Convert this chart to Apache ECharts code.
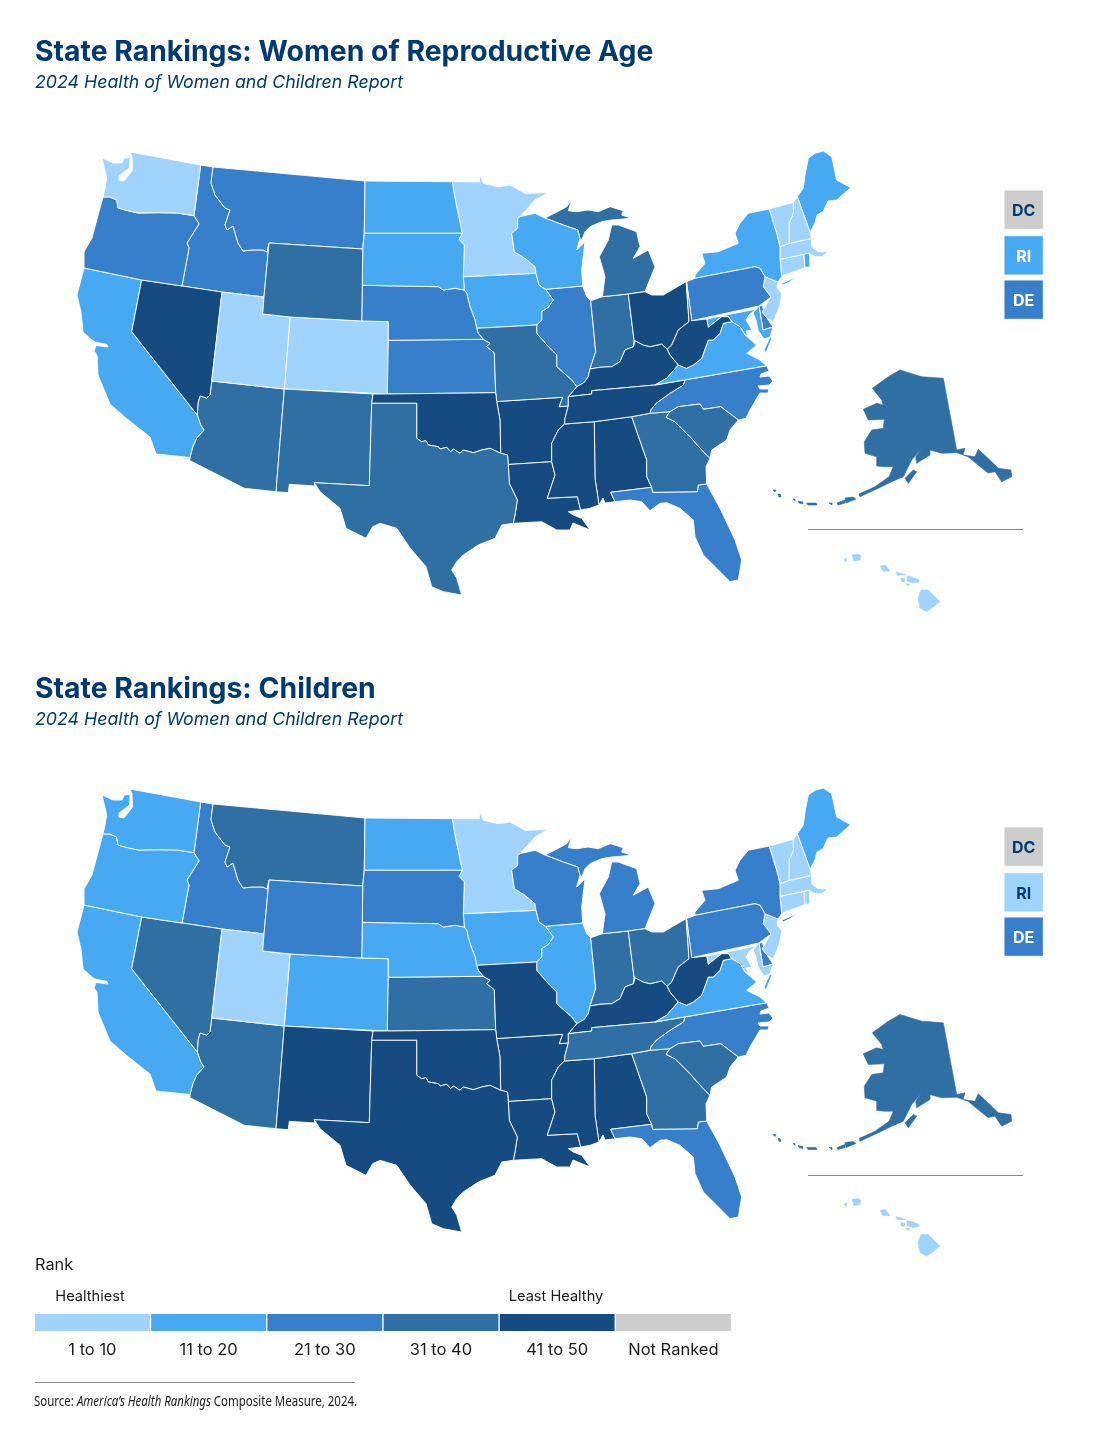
<!DOCTYPE html>
<html>
<head>
<meta charset="utf-8">
<title>State Rankings</title>
<script src="https://cdn.jsdelivr.net/npm/echarts@6/dist/echarts.min.js"></script>
<style>
    html, body { margin: 0; padding: 0; background: #fff; }
    #container { width: 1118px; height: 1445px; }
</style>
</head>
<body>
<div id="container"></div>
<script>
// rank group of each state: 1 = ranks 1-10 ... 5 = ranks 41-50, 0 = not ranked
var stateCodes    = ['AL','AK','AZ','AR','CA','CO','CT','DE','DC','FL','GA','HI','ID','IL','IN','IA','KS','KY','LA','ME','MD','MA','MI','MN','MS','MO','MT','NE','NV','NH','NJ','NM','NY','NC','ND','OH','OK','OR','PA','RI','SC','SD','TN','TX','UT','VT','VA','WA','WV','WI','WY'];
var womenGroups   = [5,4,4,5,2,1,1,3,0,3,4,1,3,3,4,2,3,5,5,2,2,1,4,1,5,4,3,3,5,1,1,4,2,3,2,5,5,3,3,2,4,2,5,4,1,1,2,1,5,2,4];
var childrenGroups= [5,4,4,5,2,2,1,3,0,3,4,1,3,2,4,2,4,5,5,2,1,1,3,1,5,5,4,2,4,1,1,5,3,3,2,4,5,2,3,1,4,3,4,5,1,1,2,2,5,3,3];
var legendGroups  = [1,2,3,4,5,0];
var legendLabels  = ['1 to 10','11 to 20','21 to 30','31 to 40','41 to 50','Not Ranked'];
var groupColors   = {0:'#cccccc',1:'#a0d4ff',2:'#47a9f1',3:'#387fcb',4:'#2f6fa3',5:'#154b80'};
var boxedStates   = ['DC','RI','DE'];
var insetStates   = ['AK','HI'];

var titleColor = '#003a70';
var titleFont = 'Inter, "Noto Sans", sans-serif';

// base map outlines, "x,y x,y ..." in map units
var redRiver = '416.7,438.3 421.7,441.7 426,440.7 428.3,445 438.3,446.7 440,449 446.7,447.3 450.7,451.7 453.3,449 460,453.3 463.3,450 473.3,452.7 481.7,450 490,448.3 500.7,453.3';
var redRiverBack = redRiver.split(' ').reverse().join(' ');
var outlines = {
    WA:['130,152 200.7,165 194,215.7 176.7,213 158,212.7 138,213 125,210 118,208 116.7,200 110,197 103,197 105,188 106.7,178 102,158 113,163 122,163 124,158 130,157.5 129.5,168 119,176 119,180 124,181 132.5,170 132,157'],
    OR:['194,215.7 199,224 187,243 189,248 182,286 141.7,280 84,268 84,252 92,238 100,208 103,197 110,197 116.7,200 118,208 125,210 138,213 158,212.7 176.7,213'],
    ID:['200.7,165 213,167 211,183 215,195 225,208 230,210 225,225 227,230 233,226 238,243 243,251 252,250 263,250 267,252 269,243 264,297 222,292 182,286 189,248 187,243 199,224 194,215.7'],
    MT:['213,167 365,181 364.3,233.3 362.7,249 269,243 267,252 263,250 252,250 243,251 238,243 233,226 227,230 225,225 230,210 225,208 215,195 211,183'],
    WY:['269,243 362.7,249 362.3,285.3 361.7,321 290,317 262.7,314 264,297'],
    UT:['222,292 264,297 262.7,314 290,317 284.3,389 211.7,381'],
    CO:['290,317 361.7,321 388.3,321.7 388.3,340.3 387.3,394 284.3,389'],
    NV:['141.7,280 182,286 222,292 211.7,381 210,395 206.7,398 200,396 198,403 197.3,415 131.7,331.7'],
    CA:['84,268 141.7,280 131.7,331.7 197.3,415 200.7,425 204,430 196.7,438 192.7,447 190,457.5 156,454 150,437 126,418 110,404 98,375 97,355 94,351 96,345.5 108,347 107,344.5 95,342 92,340 83,332 81,312 77,295'],
    AZ:['211.7,381 284.3,389 276,491.7 244.3,488.3 190,460.7 190,457.5 192.7,447 196.7,438 204,430 200.7,425 197.3,415 198,403 200,396 206.7,398 210,395'],
    NM:['284.3,389 373,394 371.7,403.3 369.3,485.7 314.3,482.7 315,486 289.3,484.3 288.3,492.7 276,491.7'],
    OK:['373,394 387.3,394 495.7,392.7 496.7,401.5 500,420 ' + redRiverBack + ' 416.7,403.3 371.7,403.3'],
    TX:['371.7,403.3 416.7,403.3 ' + redRiver + ' 507.5,455 508.3,464.5 509.3,483.3 517.3,500 515,515 513.3,523.3 501.7,525 495,538.3 478.3,545 463.3,555 456.7,561.7 451.7,570 456.7,578 461.7,595 443.3,591.7 431.7,586.7 426,566.7 410,548 396.7,528.3 380,523.3 372.7,526.7 366,538.3 346,528.3 340,508.3 320,491.7 314.3,482.7 369.3,485.7'],
    ND:['365,181 452.3,181.7 455,198.3 462.3,233.3 364.3,233.3'],
    SD:['364.3,233.3 462.3,233.3 459,239.3 464.3,245 463.3,276.7 464.3,290 455,288.3 443.3,290 438.3,286.7 362.3,285.3 362.7,249'],
    NE:['362.3,285.3 438.3,286.7 443.3,290 455,288.3 464.3,290 466.7,293.3 470,306.7 475,320 476.7,328.3 478.3,333.3 483.3,339.3 388.3,340.3 388.3,321.7 361.7,321'],
    KS:['388.3,340.3 483.3,339.3 490,343.3 486.7,346.7 494.3,352.7 495.7,392.7 387.3,394'],
    MN:['452.3,181.7 479.3,181.7 480,175 483.3,183.3 498.3,186.7 510,185 525,193.3 547.7,192.7 535,200 520,216.7 517.7,218.3 517.7,228.3 511.7,233.3 514.3,251.7 525,258.3 535,266.7 536,273.3 463.3,276.7 464.3,245 459,239.3 462.3,233.3 455,198.3'],
    IA:['463.3,276.7 536,273.3 539,285 545.5,289.3 553.3,300 548.3,307.3 541.7,311.7 541.7,320 536.7,325 476.7,328.3 475,320 470,306.7 466.7,293.3 464.3,290'],
    MO:['476.7,328.3 536.7,325 536.7,333.3 548.3,346.7 556.7,355 556.7,366.7 571.7,380 576.7,386.7 568.3,396.7 568.3,406 559.3,406.7 562.7,397.3 496.7,401.5 495.7,392.7 494.3,352.7 486.7,346.7 490,343.3 483.3,339.3 478.3,333.3'],
    AR:['496.7,401.5 562.7,397.3 559.3,406.7 568.3,406 565,418.3 564.5,424 558.3,430 551.7,443.3 551.7,461.7 508.3,464.5 507.5,455 500.7,453.3 500,420'],
    LA:['508.3,464.5 551.7,461.7 555,475 547.3,498.3 577.3,496.7 580.7,510 568.3,511.7 573.3,515 581.7,518.3 590,530 573,523 570,530 556.7,530 541.7,521.7 523.3,522.7 513.3,523.3 515,515 517.3,500 509.3,483.3'],
    MS:['564.5,424 594.3,421.7 595,478.3 599,505 590,508.3 580.7,510 577.3,496.7 547.3,498.3 555,475 551.7,461.7 551.7,443.3 558.3,430'],
    AL:['594.3,421.7 631.7,416.7 646.7,460 646.7,476.7 651.7,487.3 610.7,492.3 615,501.7 605,503 603,498 599,505 595,478.3'],
    GA:['631.7,416.7 650,413.3 670,411.7 666,417.3 675,421.7 690,436.7 703.3,451.7 710,458.3 706,466.7 706.7,484 698.3,485 697.3,491.7 652.7,492.3 651.7,487.3 646.7,476.7 646.7,460'],
    FL:['610.7,492.3 651.7,487.3 652.7,492.3 697.3,491.7 698.3,485 706.7,484 720,508.3 735,540 741.7,560 738.3,580 730,581.7 716.7,568.3 703.3,555 695,536.7 693.3,520 680,508.3 666.7,502.7 660,503.3 650,510.7 641.7,501.7 630,500 615,501.7'],
    SC:['666,417.3 670,411.7 678.3,406.7 700,404 703.3,409.3 720.7,406.7 738.3,420 730,430 726.7,440 711.7,450 710,458.3 703.3,451.7 690,436.7 675,421.7'],
    NC:['650,413.3 650.7,410 656,403.3 670,393.3 683.3,385 685,380 766.7,365.7 769,371 761,374 760,377 769,376 773,381 769,385 758,386 760,389 769,389 768,393 760,393 750,410 746,418.3 738.3,420 720.7,406.7 703.3,409.3 700,404 678.3,406.7 670,411.7'],
    TN:['564.5,424 565,418.3 568.3,406 568.3,396.7 591.7,394 591.7,390.7 655,385 685,380 683.3,385 670,393.3 656,403.3 650.7,410 650,413.3 631.7,416.7 594.3,421.7'],
    KY:['591.7,390.7 655,385 666.7,378.3 678.3,365 670,355 667.3,349.3 661.7,344 650,346.7 643.3,345 635,340.7 633.5,346.7 625,350 620,361.7 611.7,366.7 600,367.3 590,369 588.3,376.7 584,382.7 576.7,386.7 568.3,396.7 591.7,394'],
    IL:['545.5,289.3 582.7,286 586.7,296.7 590.7,300.7 594.3,336.7 595.7,351.7 590,369 588.3,376.7 584,382.7 576.7,386.7 571.7,380 556.7,366.7 556.7,355 548.3,346.7 536.7,333.3 536.7,325 541.7,320 541.7,311.7 548.3,307.3 553.3,300'],
    IN:['590.7,300.7 602.3,296.7 628.3,294 634,340 633.5,346.7 625,350 620,361.7 611.7,366.7 600,367.3 590,369 595.7,351.7 594.3,336.7'],
    OH:['628.3,294 645,291.7 651.7,295 663.3,295 686,281.7 689,321.7 678.3,330 671.7,345 667.3,349.3 661.7,344 650,346.7 643.3,345 635,340.7 634,340'],
    PA:['686.5,281.7 695,278.3 755,266.7 760,268.3 765,276.8 763.3,286.8 771,297 759,306 691.7,320.7'],
    WV:['689,321.7 686.5,281.7 691.7,320.7 706.7,319 708.3,327.3 721.7,316.7 728.3,316.7 731.7,321.7 723.3,323.3 720,333.3 713.3,340 708.3,340 701.7,358.3 693.3,365 686.7,368.3 678.3,365 670,355 667.3,349.3 671.7,345 678.3,330'],
    VA:['655,385 666.7,378.3 678.3,365 686.7,368.3 693.3,365 701.7,358.3 708.3,340 713.3,340 720,333.3 723.3,323.3 731.7,321.7 740,326.7 745,335 756.7,345 746.7,353.3 760,360 766.7,365.7','770,337 772,338 766,353 764,350'],
    MD:['706.7,319 756,309 749,315 746,320 752,330 746,331 748,336 745,335 740,326.7 731.7,321.7 728.3,316.7 721.7,316.7 708.3,327.3','759,306 763,330 773,327 770,337 764,339 758,330 756,320 753,313'],
    DC:['1004,190 1043.3,190 1043.3,229.3 1004,229.3','745,328 748,326 750,329 747,331'],
    DE:['1004,280 1023.6,280 1043.3,280 1043.3,299.6 1043.3,319.3 1023.6,319.3 1004,319.3 1004,299.6','759,306 762.5,305.5 765,315 773,327 763,330'],
    NJ:['765,276.8 771,279 778,282 777,288 781.7,293.5 780,305 776.7,313.5 773.3,321.8 767,318 762,312 771,297 763.3,286.8'],
    NY:['695,278.3 755,266.7 760,268.3 765,276.8 778,282 781.7,276.7 780,259.3 780,246.7 777.3,235 769.3,209 748.3,213.3 740,223.3 735,233.3 738.3,243.3 718.3,251.7 701.7,253.3 705,263.3 695,275','781.7,283.3 796.7,276.7 790,281.7 783,285'],
    VT:['769.3,209 793.3,202.3 793.3,213.3 789,223.3 789,243.5 780,246.7 777.3,235'],
    NH:['793.3,202.3 797.3,196.7 810,232.3 811.7,238.3 789,243.5 789,223.3 793.3,213.3'],
    ME:['797.3,196.7 803.3,188 805,175 808.3,158 815,153.3 823.3,151 831.7,156.7 836.7,180 850.7,187.7 836.7,200 828,201 823,211.7 817,215 815,223 810,232.3'],
    MA:['780,246.7 789,243.5 811.7,238.3 811.7,246.7 818.3,251.7 828.3,251.7 821.7,256.7 815,256.7 809.3,253.3 804,254.3 780,259.3'],
    CT:['780,259.3 804,254.3 805,267.7 782.7,275.7 781.7,276.7'],
    RI:['1004,235.7 1043.3,235.7 1043.3,275 1004,275','804,254.3 809.3,253.3 810,266.7 805,267.7'],
    WI:['517.7,218.3 520,216.7 535,213.3 545,218 563.3,225 577.7,230 580,238.3 576.7,250 585,241.7 581.7,270 582.7,286 545.5,289.3 539,285 536,273.3 535,266.7 525,258.3 514.3,251.7 511.7,233.3 517.7,228.3'],
    MI:['545,218 555,213 566.7,206.7 571.7,200 568.3,210.7 576.7,211.7 588,210 598.3,211.7 610,206.7 623.3,210.7 621.7,215 631.7,218.3 611.7,220 601.7,221.7 590,226.7 585,231.7 581.7,240 580,238.3 577.7,230 563.3,225','611.7,225 618.3,225 636.7,231.7 640,246.7 633.3,258.3 648.3,250 655,266.7 645,291.7 628.3,294 602.3,296.7 605,276.7 599.3,256.7 608.3,240'],
    AK:['900,370 921.7,376.7 943.3,378.3 956.7,450 965,448.3 963,455 975,456.7 978.3,449.3 991.7,461.7 998.3,468.3 1011,470 1011.7,476.7 1001.7,481.7 995,471.7 988,473 978,465 968,456.7 956.7,452.7 941.7,453.3 930,450 930,455 916.7,463.3 915.7,456.7 921.7,448.3 911.7,460 903.3,476.7 891.7,481.7 878.3,488.3 860,496.7 859,494 875,486.7 889,476.7 893.3,466.7 885,466.7 876.7,466 876.7,456.7 865,453.3 864.3,441.7 871.7,430 883.3,428.3 884.3,419.3 868.3,420 863.3,409.3 876.7,403.3 883.3,405 881.7,400 872.3,388.3 888.3,376.7','905,478.3 913.3,470 916.7,471.7 908.3,483.3','845,498 853,497 856,499 846,503','837,503 845,500 845,503 838,505','806.7,503 816,503 817,505 808,505','798,501 803,502 803,504 799,503','793,499 795,499 795,501','778,494 780,494 781,497 779,497','773,490 776,490 775,492','829,503 832,503 832,505'],
    HI:['852,555 858,554 861,556 860,560 854,561','844,560 847,558 846,562','880,566 885,565 890,571 890,572 883,571','896,572 906,575 906,576 897,575','901,578 905,579 904,582 901,581','907,576 912,577 919,580 919,582 912,583 907,581','906,584 910,584 908,586','921,590 928.3,590 940,601.7 926.7,611.7 920,608 918,598']
};

// Alaska and Hawaii sit a little lower in the second map
function buildGeo(insetShift) {
    var features = stateCodes.map(function (code) {
        var shift = insetStates.indexOf(code) >= 0 ? insetShift : 0;
        return {
            type: 'Feature',
            properties: {name: code},
            geometry: {
                type: 'MultiPolygon',
                coordinates: outlines[code].map(function (ring) {
                    return [ring.split(' ').map(function (p) {
                        var xy = p.split(',');
                        return [+xy[0], +xy[1] + shift];
                    })];
                })
            }
        };
    });
    return {type: 'FeatureCollection', features: features};
}
echarts.registerMap('usWomen', buildGeo(0));
echarts.registerMap('usChildren', buildGeo(7.5));

function mapData(groups) {
    return stateCodes.map(function (code, i) {
        var item = {name: code, value: groups[i]};
        if (boxedStates.indexOf(code) >= 0) {
            item.label = {
                show: true,
                color: groups[i] < 2 ? titleColor : '#fff',
                fontFamily: titleFont,
                fontWeight: 700,
                fontSize: 16,
                offset: [0, 1.5]
            };
        }
        if (insetStates.indexOf(code) >= 0) {
            item.itemStyle = {borderColor: groupColors[groups[i]], borderWidth: 0.6};
        }
        return item;
    });
}

function mapSeries(mapName, groups, top) {
    return {
        type: 'map',
        map: mapName,
        projection: {project: function (p) { return p; }, unproject: function (p) { return p; }},
        boundingCoords: [[0, 0], [1118, 722]],
        left: 0,
        top: top,
        width: 1118,
        height: 722,
        roam: false,
        silent: true,
        selectedMode: false,
        label: {show: false},
        itemStyle: {borderColor: '#fff', borderWidth: 0.9, areaColor: '#ccc'},
        data: mapData(groups)
    };
}

function headerText(text, y, size, weight, style) {
    return {
        type: 'text', x: 35, y: y,
        style: {text: text, fill: titleColor, font: style + ' ' + weight + ' ' + size + 'px ' + titleFont, textVerticalAlign: 'middle'}
    };
}

function plainText(text, x, y, align, size) {
    return {
        type: 'text', x: x, y: y,
        style: {text: text, fill: '#1a1a1a', font: size + 'px ' + titleFont, textAlign: align, textVerticalAlign: 'middle'}
    };
}

function rule(x1, x2, y, color) {
    return {type: 'line', shape: {x1: x1, y1: y, x2: x2, y2: y}, style: {stroke: color, lineWidth: 1}};
}

var graphics = [
    headerText('State Rankings: Women of Reproductive Age', 52, 28.35, 700, 'normal'),
    headerText('2024 Health of Women and Children Report', 82.5, 17.75, 400, 'italic'),
    headerText('State Rankings: Children', 689, 28.35, 700, 'normal'),
    headerText('2024 Health of Women and Children Report', 719.5, 17.75, 400, 'italic'),
    rule(808, 1023, 529.5, '#7f8a99'),
    rule(808, 1023, 1175.5, '#7f8a99'),
    plainText('Rank', 35, 1265, 'left', 16.3),
    plainText('Healthiest', 90, 1297, 'center', 14.6),
    plainText('Least Healthy', 556, 1297, 'center', 14.6),
    rule(35, 355, 1382.5, '#888'),
    {
        type: 'text', x: 34, y: 1402, scaleX: 0.85,
        style: {
            text: 'Source: {i|America\u2019s Health Rankings} Composite Measure, 2024.',
            fill: '#1a1a1a',
            font: '13.5px "Noto Sans", sans-serif',
            textVerticalAlign: 'middle',
            rich: {i: {font: 'italic 13.5px "Noto Sans", sans-serif', fill: '#1a1a1a'}}
        }
    }
];
legendGroups.forEach(function (group, i) {
    var x = 35 + i * 116.2;
    graphics.push({
        type: 'rect',
        shape: {x: x, y: 1314, width: 114.8, height: 17},
        style: {fill: groupColors[group]}
    });
    graphics.push(plainText(legendLabels[i], x + 57.4, 1350, 'center', 16.5));
});

var dom = document.getElementById('container');
var myChart = echarts.init(dom);
var option = {
    animation: false,
    backgroundColor: '#fff',
    visualMap: {
        show: false,
        type: 'piecewise',
        seriesIndex: [0, 1],
        pieces: legendGroups.map(function (group) {
            return {value: group, color: groupColors[group]};
        })
    },
    series: [
        mapSeries('usWomen', womenGroups, 0),
        mapSeries('usChildren', childrenGroups, 637)
    ],
    graphic: graphics
};
myChart.setOption(option);
</script>
</body>
</html>
